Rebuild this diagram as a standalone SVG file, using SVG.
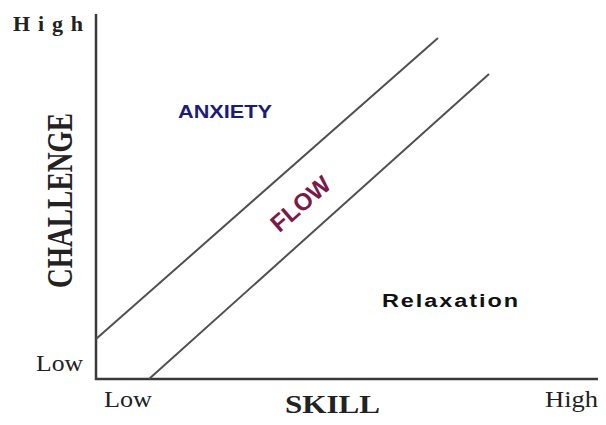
<svg xmlns="http://www.w3.org/2000/svg" width="606" height="425" viewBox="0 0 606 425">
<style>
.ser{font-family:"Liberation Serif","Times New Roman",serif;fill:#222}
.b{font-weight:bold}
.sans{font-family:"Liberation Sans",Arial,sans-serif;font-weight:bold}
.axis{stroke:#3a3a3a;stroke-width:2.5;fill:none}
.diag{stroke:#505050;stroke-width:2;fill:none}
</style>
<rect width="606" height="425" fill="#fff"/>
<g id="connectors">
<path class="axis" d="M96,14 V379 H598"/>
<line class="diag" x1="96" y1="339" x2="438" y2="38"/>
<line class="diag" x1="149" y1="379" x2="489" y2="74"/>
</g>
<g id="label-high-y"><text class="ser b" x="13" y="31" font-size="22" textLength="70" lengthAdjust="spacing">High</text></g>
<g id="label-low-y"><text class="ser" x="36" y="371" font-size="24" textLength="47" lengthAdjust="spacingAndGlyphs">Low</text></g>
<g id="label-challenge"><text class="ser b" transform="translate(72,288) rotate(-90) scale(1,1.3)" font-size="27" textLength="175" lengthAdjust="spacingAndGlyphs">CHALLENGE</text></g>
<g id="label-low-x"><text class="ser" x="104" y="407" font-size="24" textLength="48" lengthAdjust="spacingAndGlyphs">Low</text></g>
<g id="label-skill"><text class="ser b" x="285" y="413" font-size="26" textLength="95" lengthAdjust="spacingAndGlyphs">SKILL</text></g>
<g id="label-high-x"><text class="ser" x="545" y="407" font-size="23" textLength="53" lengthAdjust="spacingAndGlyphs">High</text></g>
<g id="anxiety"><text class="sans" x="178" y="118" font-size="18" fill="#1c1c78" textLength="94" lengthAdjust="spacingAndGlyphs">ANXIETY</text></g>
<g id="flow"><text class="sans" transform="translate(306,210) rotate(-41)" text-anchor="middle" font-size="24" fill="#7a1a4a">FLOW</text></g>
<g id="relaxation"><text class="sans" x="382" y="307" font-size="18" fill="#111" letter-spacing="1.5" textLength="138" lengthAdjust="spacingAndGlyphs">Relaxation</text></g>
</svg>
